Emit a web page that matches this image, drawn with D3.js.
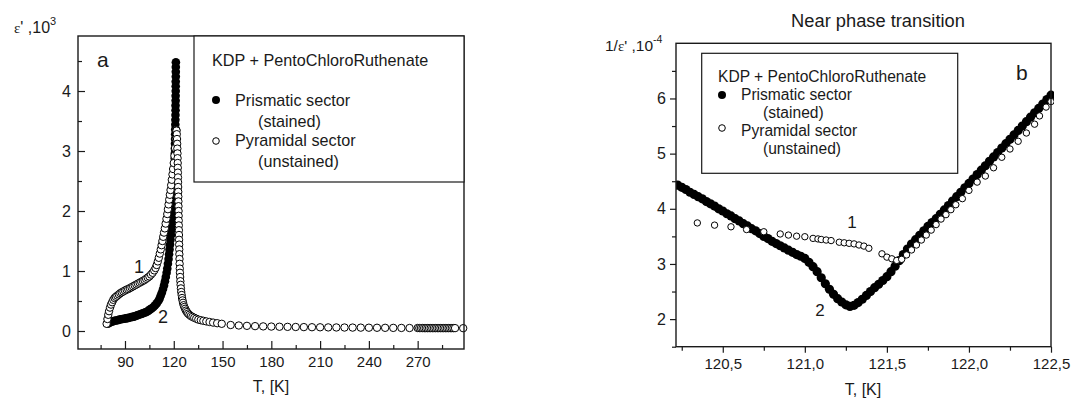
<!DOCTYPE html>
<html><head><meta charset="utf-8">
<script src="https://cdn.jsdelivr.net/npm/d3@7"></script>
<style>
html,body{margin:0;padding:0;background:#fff;}
svg{display:block;font-family:"Liberation Sans",Arial,sans-serif;}
</style></head>
<body>
<svg id="c" width="1071" height="398"></svg>
<script>
// ---------- Panel a : epsilon' (x10^3) vs T ----------
const aPrisT = [79.5,80.5,81.5,82.5,83.5,84.5,85.5,86.5,87.5,88.5,89.5,90.5,91.5,92.5,93.5,94.5,95.5,96.5,97.5,98.5,99.5,100.5,101.5,102.5,103.5,104.5,105.5,106.5,107.5,108.5,109.5,110.5,111.3,112.0,112.7,113.4,114.0,114.6,115.1,115.6,116.0,116.4,116.8,117.1,117.4,117.7,118.0,118.3,118.5,118.7,118.9,119.1,119.3,119.45,119.6,119.75,119.9,120.0,120.1,120.2,120.3,120.4,120.5,120.6,120.65,120.7,120.75,120.8,120.85,120.9,120.95,121.0,121.05,121.1,121.1,121.15,121.15,121.2,121.2,121.2,121.25,121.25,121.25,121.3];
const aPrisE = [0.12,0.14,0.15,0.16,0.17,0.175,0.18,0.19,0.195,0.20,0.205,0.21,0.215,0.22,0.23,0.235,0.24,0.25,0.26,0.27,0.28,0.29,0.30,0.31,0.32,0.34,0.36,0.38,0.40,0.43,0.46,0.50,0.54,0.59,0.64,0.70,0.76,0.83,0.90,0.97,1.04,1.12,1.20,1.28,1.36,1.44,1.52,1.60,1.68,1.76,1.84,1.92,2.00,2.08,2.16,2.24,2.32,2.40,2.48,2.56,2.64,2.72,2.80,2.88,2.96,3.04,3.12,3.20,3.28,3.36,3.44,3.52,3.60,3.68,3.76,3.84,3.92,4.00,4.08,4.16,4.24,4.32,4.40,4.48];

const aPyrT = [78.7,79.2,79.7,80.2,80.8,81.4,82.1,82.8,83.6,84.4,85.3,86.2,87.1,88.0,89.0,90.0,91.0,92.0,93.0,94.0,95.0,96.0,97.0,98.0,99.0,100.0,101.0,102.0,103.0,104.0,105.0,106.0,107.0,108.0,108.8,109.5,110.2,110.8,111.4,112.0,112.5,113.0,113.5,114.0,114.5,115.0,115.5,116.0,116.4,116.8,117.2,117.6,118.0,118.4,118.8,119.2,119.6,120.0,120.4,120.8,121.2,121.6,
  121.7,121.85,122.0,122.1,122.2,122.28,122.35,122.42,122.48,122.54,122.6,122.65,122.7,122.75,122.8,122.85,122.9,122.95,123.0,123.05,123.1,123.15,123.2,123.26,123.32,123.38,123.45,123.52,123.6,123.7,123.8,123.92,124.05,124.2,124.4,124.6,124.85,125.1,125.4,125.7,126.1,126.5,127.0,127.5,128.1,128.8,129.6,130.5,131.5,132.6,133.8,135.1,136.6,138.2,140.0,142.0,144.2,146.7,149.5,
  155,160,165,170,175,180,185,190,195,200,205,210,215,220,225,230,235,240,245,250,255,260,265,270,
  271,272,273,274,275,276,277,278,279,280,281,282,283,284,285,286,287,288,289,290,291,292,293,298];
const aPyrE = [0.12,0.20,0.27,0.33,0.39,0.44,0.48,0.52,0.55,0.57,0.59,0.61,0.63,0.645,0.66,0.675,0.69,0.70,0.715,0.73,0.745,0.76,0.775,0.79,0.805,0.82,0.835,0.85,0.87,0.89,0.91,0.94,0.97,1.01,1.05,1.10,1.16,1.22,1.29,1.36,1.43,1.50,1.57,1.64,1.71,1.79,1.87,1.95,2.03,2.11,2.19,2.27,2.35,2.43,2.52,2.61,2.70,2.80,2.92,3.05,3.20,3.35,
  3.34,3.28,3.20,3.12,3.04,2.96,2.88,2.80,2.72,2.64,2.56,2.48,2.40,2.32,2.24,2.16,2.08,2.00,1.92,1.84,1.76,1.68,1.60,1.52,1.44,1.36,1.28,1.20,1.12,1.04,0.97,0.90,0.83,0.77,0.71,0.65,0.60,0.55,0.51,0.47,0.43,0.40,0.37,0.34,0.315,0.29,0.27,0.25,0.235,0.22,0.205,0.19,0.18,0.17,0.16,0.15,0.14,0.13,0.12,
  0.10,0.092,0.086,0.081,0.077,0.074,0.071,0.069,0.067,0.065,0.063,0.062,0.060,0.059,0.058,0.057,0.056,0.055,0.054,0.053,0.052,0.051,0.050,0.050,
  0.049,0.049,0.049,0.048,0.048,0.048,0.048,0.048,0.048,0.048,0.048,0.048,0.048,0.048,0.048,0.048,0.048,0.048,0.048,0.048,0.048,0.048,0.048,0.047];

const aXTicks = [90,120,150,180,210,240,270];
const aXMinor = [75,105,135,165,195,225,255,285];
const aYTicks = [0,1,2,3,4];
const aYMinor = [0.5,1.5,2.5,3.5,4.5];

// ---------- Panel b : 1/epsilon' (x10^-4) vs T ----------
const bPrisT = [120.225,120.25,120.275,120.3,120.325,120.35,120.375,120.4,120.425,120.45,120.475,120.5,120.525,120.55,120.575,120.6,120.625,120.65,120.675,120.7,120.725,120.75,120.775,120.8,120.825,120.85,120.875,120.9,120.925,120.95,120.975,121.0,121.025,121.05,121.075,121.1,121.125,121.15,121.175,121.2,121.225,121.25,121.275,121.3,121.325,121.35,121.375,121.4,121.425,121.45,121.475,121.5,121.525,121.55,121.575,121.6,121.625,121.65,121.675,121.7,121.725,121.75,121.775,121.8,121.825,121.85,121.875,121.9,121.925,121.95,121.975,122.0,122.025,122.05,122.075,122.1,122.125,122.15,122.175,122.2,122.225,122.25,122.275,122.3,122.325,122.35,122.375,122.4,122.425,122.45,122.475,122.5];
const bPrisV = [4.43,4.39,4.35,4.30,4.26,4.22,4.18,4.13,4.09,4.05,4.00,3.96,3.91,3.87,3.82,3.78,3.73,3.69,3.64,3.60,3.55,3.50,3.46,3.41,3.37,3.33,3.29,3.25,3.21,3.17,3.14,3.10,3.03,2.95,2.86,2.75,2.64,2.54,2.45,2.37,2.31,2.26,2.23,2.25,2.30,2.36,2.43,2.50,2.57,2.63,2.70,2.77,2.86,2.96,3.06,3.17,3.27,3.36,3.44,3.52,3.60,3.68,3.75,3.82,3.90,3.98,4.06,4.14,4.22,4.30,4.38,4.46,4.54,4.62,4.70,4.78,4.86,4.94,5.02,5.10,5.18,5.26,5.34,5.42,5.50,5.58,5.66,5.74,5.82,5.90,5.98,6.06];

const bPyrT = [120.345,120.45,120.55,120.645,120.75,120.85,120.9,120.95,121.0,121.05,121.08,121.1,121.13,121.16,121.21,121.24,121.27,121.30,121.33,121.36,121.39,121.47,121.50,121.53,121.56,121.59,121.62,121.65,121.68,121.71,121.74,121.77,121.80,121.83,121.86,121.89,121.92,121.96,122.00,122.05,122.10,122.15,122.20,122.25,122.30,122.35,122.40,122.43,122.47,122.5];
const bPyrV = [3.78,3.74,3.71,3.66,3.62,3.58,3.56,3.54,3.53,3.50,3.49,3.48,3.47,3.46,3.43,3.42,3.41,3.40,3.38,3.36,3.32,3.22,3.16,3.13,3.10,3.12,3.20,3.29,3.38,3.47,3.56,3.65,3.75,3.85,3.93,4.02,4.11,4.22,4.37,4.52,4.63,4.78,4.97,5.12,5.26,5.41,5.57,5.72,5.88,5.98];

const bXTicks = [120.5,121.0,121.5,122.0,122.5];
const bXMinor = [120.25,120.75,121.25,121.75,122.25];
const bYTicks = [2,3,4,5,6];
const bYMinor = [1.5,2.5,3.5,4.5,5.5,6.5];

const legendTitle = "KDP + PentoChloroRuthenate";
const legendItems = [["Prismatic sector","(stained)"],["Pyramidal sector","(unstained)"]];

// ---------------------------------------------------------
const svg = d3.select("#c");
const INK = "#1a1a1a";

function styleAxis(g, fs){
  g.select(".domain").remove();
  g.selectAll("line").attr("stroke", INK).attr("stroke-width", 1.2);
  g.selectAll("text").attr("font-size", fs).attr("fill", INK)
    .attr("font-family", "'Liberation Sans',Arial,sans-serif");
}

// ===== Panel a =====
{
  const L=78, R=464, T=36, B=349;
  const x = d3.scaleLinear().domain([61.1, 298.5]).range([L, R]);
  const y = d3.scaleLinear().domain([-0.3, 4.917]).range([B, T]);
  const g = svg.append("g");

  g.append("g").attr("transform", `translate(0,${B})`)
    .call(d3.axisBottom(x).tickValues(aXTicks).tickSize(-8).tickPadding(7).tickFormat(d3.format("d")))
    .call(a=>styleAxis(a,15));
  g.append("g").attr("transform", `translate(0,${B})`)
    .call(d3.axisBottom(x).tickValues(aXMinor).tickSize(-4).tickFormat(""))
    .call(a=>styleAxis(a,15));
  g.append("g").attr("transform", `translate(${L},0)`)
    .call(d3.axisLeft(y).tickValues(aYTicks).tickSize(-7).tickPadding(7).tickFormat(d3.format("d")))
    .call(a=>styleAxis(a,16));
  g.append("g").attr("transform", `translate(${L},0)`)
    .call(d3.axisLeft(y).tickValues(aYMinor).tickSize(-4).tickFormat(""))
    .call(a=>styleAxis(a,16));

  const pris = aPrisT.map((t,i)=>[t,aPrisE[i]]);
  const pyr = aPyrT.map((t,i)=>[t,aPyrE[i]]);
  g.append("g").selectAll("circle").data(pris).join("circle")
    .attr("cx", d=>x(d[0])).attr("cy", d=>y(d[1])).attr("r", 4.3).attr("fill", "#000");
  g.append("g").selectAll("circle").data(pyr).join("circle")
    .attr("cx", d=>x(d[0])).attr("cy", d=>y(d[1])).attr("r", 3.7)
    .attr("fill", "#fff").attr("stroke", "#000").attr("stroke-width", 1);

  g.append("rect").attr("x", L).attr("y", T).attr("width", R-L).attr("height", B-T)
    .attr("fill","none").attr("stroke", INK).attr("stroke-width", 1.4);

  // legend
  const lg = g.append("g");
  lg.append("rect").attr("x",194).attr("y",T).attr("width",R-194).attr("height",182-T)
    .attr("fill","#fff").attr("stroke",INK).attr("stroke-width",1.2);
  lg.append("text").attr("x",212).attr("y",66).attr("font-size",16.2).attr("fill",INK).text(legendTitle);
  lg.append("circle").attr("cx",216).attr("cy",100).attr("r",4).attr("fill","#000");
  lg.append("circle").attr("cx",216).attr("cy",141).attr("r",3.3).attr("fill","#fff").attr("stroke","#000").attr("stroke-width",1);
  lg.append("text").attr("x",235).attr("y",106).attr("font-size",16.2).attr("fill",INK).text(legendItems[0][0]);
  lg.append("text").attr("x",258).attr("y",127).attr("font-size",16.2).attr("fill",INK).text(legendItems[0][1]);
  lg.append("text").attr("x",235).attr("y",146).attr("font-size",16.2).attr("fill",INK).text(legendItems[1][0]);
  lg.append("text").attr("x",258).attr("y",167).attr("font-size",16.2).attr("fill",INK).text(legendItems[1][1]);

  g.append("text").attr("x",97).attr("y",67).attr("font-size",21).attr("fill",INK).text("a");
  g.append("text").attr("x",139).attr("y",273).attr("text-anchor","middle").attr("font-size",18).attr("fill",INK).text("1");
  g.append("text").attr("x",163).attr("y",323).attr("text-anchor","middle").attr("font-size",18).attr("fill",INK).text("2");

  const yl = g.append("text").attr("x",14).attr("y",33).attr("font-size",16).attr("fill",INK);
  yl.append("tspan").attr("font-family","'Liberation Serif','Times New Roman',serif").attr("font-size",15).text("ε");
  yl.append("tspan").text("' ,10");
  yl.append("tspan").attr("font-size",11).attr("dy",-8).text("3");

  g.append("text").attr("x",271).attr("y",392).attr("text-anchor","middle").attr("font-size",16).attr("fill",INK).text("T, [K]");
}

// ===== Panel b =====
{
  const L=676, R=1051, T=43.3, B=346.7;
  const x = d3.scaleLinear().domain([120.215, 122.5]).range([L, R]);
  const y = d3.scaleLinear().domain([1.5, 7.0]).range([B, T]);
  const g = svg.append("g");
  const fmt = d => d.toFixed(1).replace(".", ",");

  g.append("g").attr("transform", `translate(0,${B})`)
    .call(d3.axisBottom(x).tickValues(bXTicks).tickSize(6).tickPadding(6).tickFormat(fmt))
    .call(a=>styleAxis(a,15));
  g.append("g").attr("transform", `translate(0,${B})`)
    .call(d3.axisBottom(x).tickValues(bXMinor).tickSize(4).tickFormat(""))
    .call(a=>styleAxis(a,15));
  g.append("g").attr("transform", `translate(${L},0)`)
    .call(d3.axisLeft(y).tickValues(bYTicks).tickSize(6).tickPadding(4).tickFormat(d3.format("d")))
    .call(a=>styleAxis(a,16));
  g.append("g").attr("transform", `translate(${L},0)`)
    .call(d3.axisLeft(y).tickValues(bYMinor).tickSize(4).tickFormat(""))
    .call(a=>styleAxis(a,16));

  const pris = bPrisT.map((t,i)=>[t,bPrisV[i]]);
  const pyr = bPyrT.map((t,i)=>[t,bPyrV[i]]);
  svg.append("clipPath").attr("id","clipb").append("rect")
    .attr("x",L).attr("y",T).attr("width",R-L+3).attr("height",B-T);
  const pg = g.append("g").attr("clip-path","url(#clipb)");
  pg.append("g").selectAll("circle").data(pris).join("circle")
    .attr("cx", d=>x(d[0])).attr("cy", d=>y(d[1])).attr("r", 4.6).attr("fill", "#000");
  pg.append("g").selectAll("circle").data(pyr).join("circle")
    .attr("cx", d=>x(d[0])).attr("cy", d=>y(d[1]) + 2).attr("r", 3.2)
    .attr("fill", "#fff").attr("stroke", "#000").attr("stroke-width", 1);

  g.append("rect").attr("x", L).attr("y", T).attr("width", R-L).attr("height", B-T)
    .attr("fill","none").attr("stroke", INK).attr("stroke-width", 1.4);

  const lg = g.append("g");
  lg.append("rect").attr("x",701.7).attr("y",53.3).attr("width",256).attr("height",120)
    .attr("fill","#fff").attr("stroke",INK).attr("stroke-width",1.2);
  lg.append("text").attr("x",718).attr("y",82).attr("font-size",15.6).attr("fill",INK).text(legendTitle);
  lg.append("circle").attr("cx",722).attr("cy",95).attr("r",4).attr("fill","#000");
  lg.append("circle").attr("cx",722).attr("cy",128).attr("r",3.3).attr("fill","#fff").attr("stroke","#000").attr("stroke-width",1);
  lg.append("text").attr("x",741).attr("y",100).attr("font-size",15.6).attr("fill",INK).text(legendItems[0][0]);
  lg.append("text").attr("x",763).attr("y",118).attr("font-size",15.6).attr("fill",INK).text(legendItems[0][1]);
  lg.append("text").attr("x",741).attr("y",136).attr("font-size",15.6).attr("fill",INK).text(legendItems[1][0]);
  lg.append("text").attr("x",763).attr("y",154).attr("font-size",15.6).attr("fill",INK).text(legendItems[1][1]);

  g.append("text").attr("x",1016).attr("y",80).attr("font-size",21).attr("fill",INK).text("b");
  g.append("text").attr("x",852).attr("y",228).attr("text-anchor","middle").attr("font-size",17).attr("fill",INK).text("1");
  g.append("text").attr("x",820).attr("y",316).attr("text-anchor","middle").attr("font-size",17).attr("fill",INK).text("2");

  g.append("text").attr("x",878).attr("y",27).attr("text-anchor","middle").attr("font-size",18.3).attr("fill",INK).text("Near phase transition");

  const yl = g.append("text").attr("x",605).attr("y",51).attr("font-size",15.5).attr("fill",INK);
  yl.append("tspan").text("1/");
  yl.append("tspan").attr("font-family","'Liberation Serif','Times New Roman',serif").attr("font-size",15).text("ε");
  yl.append("tspan").text("' ,10");
  yl.append("tspan").attr("font-size",10.5).attr("dy",-8).text("-4");

  g.append("text").attr("x",863).attr("y",395).attr("text-anchor","middle").attr("font-size",16).attr("fill",INK).text("T, [K]");
}
</script>
</body></html>
